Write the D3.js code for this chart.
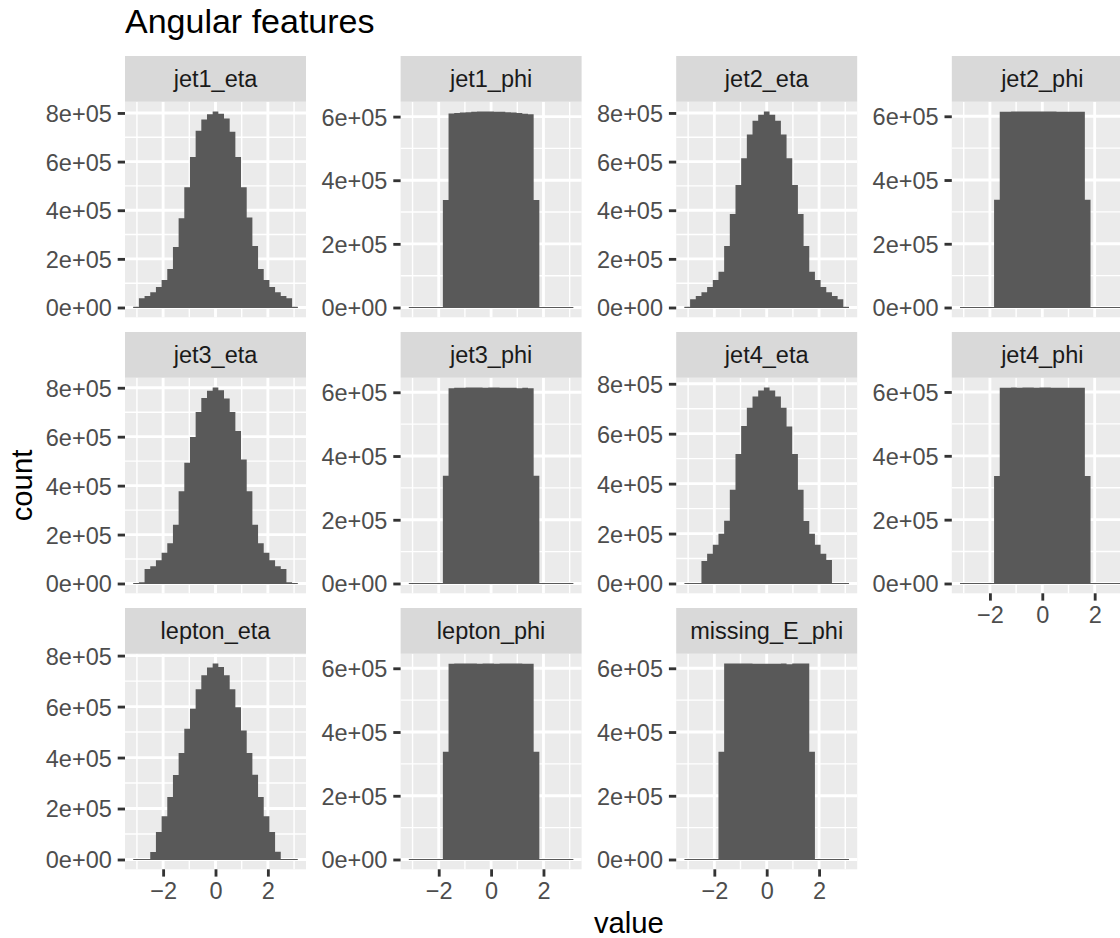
<!DOCTYPE html>
<html>
<head>
<meta charset="utf-8">
<script src="https://cdn.jsdelivr.net/npm/d3@7"></script>
<style>
  body { margin: 0; background: #ffffff; }
  svg { display: block; }
  text { font-family: "Liberation Sans", Arial, Helvetica, sans-serif; }
</style>
</head>
<body>
<svg id="chart" width="1120" height="938"></svg>
<script>
// ---------------- data ----------------
const panelNames = ["jet1_eta", "jet1_phi", "jet2_eta", "jet2_phi",
                    "jet3_eta", "jet3_phi", "jet4_eta", "jet4_phi",
                    "lepton_eta", "lepton_phi", "missing_E_phi"];

// histogram: 29 bins spanning [-pi, pi]
const binLow = -Math.PI;
const binHigh = Math.PI;
const binCount = 29;

const jet1_eta = [3000, 38500, 47000, 63000, 84000, 113000, 158000, 249000, 367000, 495000,
                  619000, 727000, 773000, 795000, 806000, 797000, 777000, 723000, 619000, 495000,
                  370000, 253000, 158000, 113000, 84000, 63000, 47000, 38000, 3000];
const jet2_eta = [3000, 34000, 47000, 63000, 84000, 113000, 147000, 253000, 384000, 504000,
                  614000, 711000, 768000, 793000, 806000, 793000, 768000, 711000, 614000, 504000,
                  384000, 253000, 147000, 113000, 84000, 63000, 47000, 34000, 3000];
const jet3_eta = [1000, 5000, 59000, 71000, 95000, 126000, 164000, 240000, 377000, 493000,
                  599000, 701000, 758000, 788000, 801000, 790000, 756000, 701000, 623000, 507000,
                  377000, 240000, 164000, 126000, 95000, 71000, 59000, 5000, 1000];
const jet4_eta = [0, 0, 0, 90000, 119000, 155000, 199000, 251000, 375000, 519000,
                  631000, 704000, 749000, 773000, 785000, 773000, 749000, 704000, 629000, 519000,
                  375000, 250000, 199000, 155000, 119000, 94000, 0, 0, 0];
const lepton_eta = [0, 0, 0, 29000, 108000, 170000, 245000, 332000, 418000, 513000,
                    591000, 668000, 723000, 753000, 769000, 755000, 723000, 668000, 597000, 506000,
                    418000, 333000, 245000, 170000, 108000, 30000, 0, 0, 0];
const jet1_phi = [0, 0, 0, 0, 0, 0, 338000, 610000, 611000, 613000,
                  614000, 615000, 616000, 616000, 616000, 615000, 615000, 614000, 613000, 611000,
                  609000, 607000, 338000, 0, 0, 0, 0, 0, 0];
const jet2_phi = [0, 0, 0, 0, 0, 0, 338000, 614000, 614000, 615000,
                  615000, 615000, 615000, 615000, 615000, 615000, 615000, 614000, 614000, 614000,
                  614000, 614000, 338000, 0, 0, 0, 0, 0, 0];
const jet3_phi = [0, 0, 0, 0, 0, 0, 338000, 613000, 614000, 614000,
                  615000, 615000, 615000, 614000, 615000, 615000, 614000, 614000, 614000, 613000,
                  614000, 613000, 338000, 0, 0, 0, 0, 0, 0];
const jet4_phi = [0, 0, 0, 0, 0, 0, 337000, 613000, 613000, 614000,
                  613000, 614000, 614000, 613000, 614000, 614000, 613000, 613000, 613000, 613000,
                  613000, 613000, 337000, 0, 0, 0, 0, 0, 0];
const lepton_phi = [0, 0, 0, 0, 0, 0, 338000, 614000, 615000, 615000,
                    615000, 615000, 614000, 615000, 615000, 614000, 615000, 615000, 615000, 615000,
                    614000, 614000, 338000, 0, 0, 0, 0, 0, 0];
const missing_E_phi = [0, 0, 0, 0, 0, 0, 338000, 615000, 615000, 615000,
                       615000, 615000, 614000, 614000, 614000, 614000, 614000, 615000, 613000, 615000,
                       615000, 615000, 338000, 0, 0, 0, 0, 0, 0];

const panelCounts = {jet1_eta, jet1_phi, jet2_eta, jet2_phi, jet3_eta, jet3_phi,
                     jet4_eta, jet4_phi, lepton_eta, lepton_phi, missing_E_phi};

const xBreaks = [-2, 0, 2];
const xMinorBreaks = [-3, -1, 1, 3];
const yBreaks = [0, 2e5, 4e5, 6e5, 8e5];
const yMinorBreaks = [1e5, 3e5, 5e5, 7e5];

const titleText = "Angular features";
const xTitle = "value";
const yTitle = "count";

// ---------------- layout ----------------
const nCol = 4;
const panelLeft0 = 125, colPitch = 275.6, panelW = 181;
const panelTop0 = 101.7, rowPitch = 276, panelH = 215.6, stripH = 45.7;
const tickLen = 7.3, tickPad = 5.9;
const axisFont = 23.5, stripFont = 23.5, titleFont = 34, axTitleFont = 29.3;
const col = {
  panel: "#EBEBEB", strip: "#D9D9D9", stripText: "#1A1A1A", bar: "#595959",
  grid: "#FFFFFF", tick: "#333333", axisText: "#4D4D4D", title: "#000000"
};

const svg = d3.select("#chart");
svg.append("rect").attr("width", 1120).attr("height", 938).attr("fill", "#fff");

const edges = d3.range(binCount + 1).map(i => binLow + (binHigh - binLow) * i / binCount);
const xPad = 0.05 * (binHigh - binLow);
const x = d3.scaleLinear().domain([binLow - xPad, binHigh + xPad]).range([0, panelW]);

function sci(v) {
  if (v === 0) return "0e+00";
  const e = Math.floor(Math.log10(Math.abs(v)) + 1e-9);
  const m = Math.round(v / Math.pow(10, e));
  return m + "e+" + String(e).padStart(2, "0");
}
function minusFmt(v) { return v < 0 ? "\u2212" + Math.abs(v) : String(v); }

const nPanels = panelNames.length;
const nRow = Math.ceil(nPanels / nCol);

panelNames.forEach((name, i) => {
  const r = Math.floor(i / nCol), c = i % nCol;
  const left = panelLeft0 + c * colPitch;
  const top = panelTop0 + r * rowPitch;
  const counts = panelCounts[name];
  const maxC = d3.max(counts);
  const y = d3.scaleLinear().domain([-0.05 * maxC, 1.05 * maxC]).range([panelH, 0]);
  const [d0, d1] = y.domain();
  const inY = v => v >= d0 && v <= d1;
  const [xd0, xd1] = x.domain();
  const inX = v => v >= xd0 && v <= xd1;

  const g = svg.append("g").attr("transform", `translate(${left},${top})`);

  // panel background
  g.append("rect").attr("width", panelW).attr("height", panelH).attr("fill", col.panel);

  // minor grid
  g.selectAll(".ymin").data(yMinorBreaks.filter(inY)).join("line")
    .attr("x1", 0).attr("x2", panelW).attr("y1", d => y(d)).attr("y2", d => y(d))
    .attr("stroke", col.grid).attr("stroke-width", 1.42);
  g.selectAll(".xmin").data(xMinorBreaks.filter(inX)).join("line")
    .attr("y1", 0).attr("y2", panelH).attr("x1", d => x(d)).attr("x2", d => x(d))
    .attr("stroke", col.grid).attr("stroke-width", 1.42);
  // major grid
  g.selectAll(".ymaj").data(yBreaks.filter(inY)).join("line")
    .attr("x1", 0).attr("x2", panelW).attr("y1", d => y(d)).attr("y2", d => y(d))
    .attr("stroke", col.grid).attr("stroke-width", 2.84);
  g.selectAll(".xmaj").data(xBreaks.filter(inX)).join("line")
    .attr("y1", 0).attr("y2", panelH).attr("x1", d => x(d)).attr("x2", d => x(d))
    .attr("stroke", col.grid).attr("stroke-width", 2.84);

  // histogram bars as one stepped area (no seams between adjacent bins)
  const steps = counts.map((v, k) => ({x: edges[k], v}));
  steps.push({x: edges[binCount], v: counts[binCount - 1]});
  const area = d3.area()
    .curve(d3.curveStepAfter)
    .x(d => x(d.x))
    .y0(y(0))
    .y1(d => y(d.v));
  g.append("path").datum(steps).attr("d", area).attr("fill", col.bar);
  // zero-height bins show as a thin baseline across the binned range
  g.append("line")
    .attr("x1", x(edges[0])).attr("x2", x(edges[binCount]))
    .attr("y1", y(0)).attr("y2", y(0))
    .attr("stroke", col.bar).attr("stroke-width", 1.2);

  // strip
  g.append("rect").attr("x", 0).attr("y", -stripH).attr("width", panelW).attr("height", stripH)
    .attr("fill", col.strip);
  g.append("text").attr("x", panelW / 2).attr("y", -stripH / 2).attr("dy", "0.36em")
    .attr("text-anchor", "middle").attr("font-size", stripFont).attr("fill", col.stripText)
    .text(name);

  // y axis
  const ya = g.append("g").call(
    d3.axisLeft(y).tickValues(yBreaks.filter(inY)).tickFormat(sci)
      .tickSize(tickLen).tickPadding(tickPad));
  ya.select(".domain").remove();
  ya.selectAll("line").attr("stroke", col.tick).attr("stroke-width", 2.84);
  ya.selectAll("text").attr("fill", col.axisText).attr("font-size", axisFont)
    .attr("font-family", "'Liberation Sans', Arial, sans-serif").attr("dy", "0.36em");

  // x axis on bottom panel of each column
  const below = i + nCol;
  if (below >= nPanels) {
    const xa = g.append("g").attr("transform", `translate(0,${panelH})`).call(
      d3.axisBottom(x).tickValues(xBreaks).tickFormat(minusFmt)
        .tickSize(tickLen).tickPadding(tickPad));
    xa.select(".domain").remove();
    xa.selectAll("line").attr("stroke", col.tick).attr("stroke-width", 2.84);
    xa.selectAll("text").attr("fill", col.axisText).attr("font-size", axisFont)
      .attr("font-family", "'Liberation Sans', Arial, sans-serif");
  }
});

// titles
svg.append("text").attr("x", panelLeft0).attr("y", 33.3)
  .attr("font-size", titleFont).attr("fill", col.title).text(titleText);

const panelsRight = panelLeft0 + (nCol - 1) * colPitch + panelW;
svg.append("text").attr("x", (panelLeft0 + panelsRight) / 2).attr("y", 933)
  .attr("text-anchor", "middle").attr("font-size", axTitleFont).attr("fill", "#000")
  .text(xTitle);

const panelsBottom = panelTop0 + (nRow - 1) * rowPitch + panelH;
svg.append("text")
  .attr("transform", `translate(31.7,${(panelTop0 + panelsBottom) / 2}) rotate(-90)`)
  .attr("text-anchor", "middle").attr("font-size", axTitleFont).attr("fill", "#000")
  .text(yTitle);
</script>
</body>
</html>
